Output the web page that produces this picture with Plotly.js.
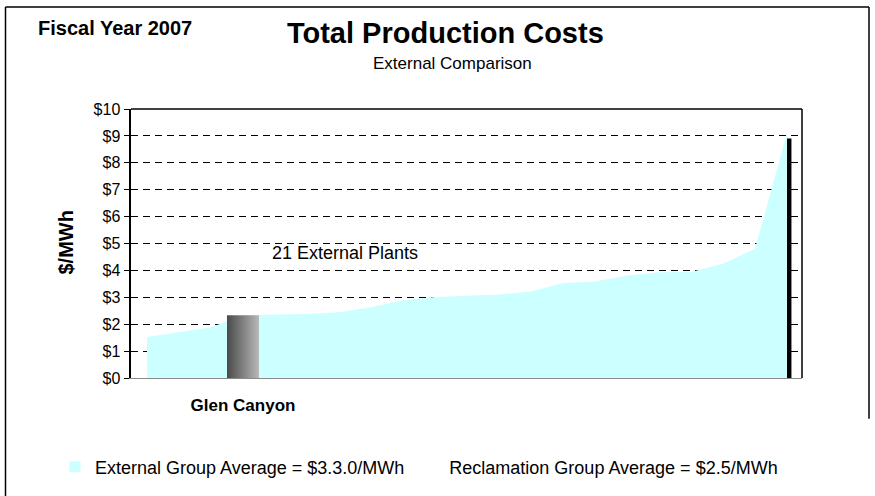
<!DOCTYPE html>
<html>
<head>
<meta charset="utf-8">
<script src="https://cdn.plot.ly/plotly-3.0.1.min.js"></script>
<style>
  html, body { margin: 0; padding: 0; background: #fff; }
  #myDiv { width: 875px; height: 496px; }
</style>
</head>
<body>
<div id="myDiv"></div>
<script>
// 21 external plants, sorted by cost ($/MWh)
const plantIndex = [0, 1, 2, 3, 4, 5, 6, 7, 8, 9, 10, 11, 12, 13, 14, 15, 16, 17, 18, 19, 20];
const plantCost = [1.52, 1.70, 1.89, 2.33, 2.36, 2.38, 2.44, 2.63, 2.89, 3.01, 3.06,
  3.10, 3.22, 3.53, 3.59, 3.81, 3.93, 3.94, 4.25, 4.80, 9.10];

// Glen Canyon column
const glenIndex = 3;
const glenCost = 2.33;
const glenLabel = 'Glen Canyon';

// dark column at the end of the curve
const peakIndex = 20;
const peakCost = 8.9;

const yTicks = [0, 1, 2, 3, 4, 5, 6, 7, 8, 9, 10];
const yTickText = yTicks.map((v) => '$' + v);

const externalLabel = 'External Group Average = $3.3.0/MWh';
const reclamationLabel = 'Reclamation Group Average = $2.5/MWh';

const fontFamily = 'Liberation Sans, Arial, sans-serif';

let data = [];
let layout;

const initTraces = () => {
  const area = {
    x: plantIndex,
    y: plantCost,
    type: 'scatter',
    mode: 'lines',
    fill: 'tozeroy',
    fillcolor: '#ccffff',
    line: { width: 0, color: '#ccffff' },
    showlegend: false,
    hoverinfo: 'x+y',
  };

  // column drawn as a filled box so it can take a gradient
  const glenBar = {
    x: [glenIndex - 0.5, glenIndex + 0.5, glenIndex + 0.5, glenIndex - 0.5, glenIndex - 0.5],
    y: [0, 0, glenCost, glenCost, 0],
    type: 'scatter',
    mode: 'lines',
    fill: 'toself',
    fillcolor: '#888888',
    fillgradient: {
      type: 'horizontal',
      colorscale: [[0, '#4a4a4a'], [1, '#b8b8b8']],
    },
    line: { width: 0 },
    showlegend: false,
    name: glenLabel,
  };

  const peakBar = {
    x: [peakIndex],
    y: [peakCost],
    type: 'bar',
    width: 0.14,
    offset: 0,
    marker: { color: '#000000', line: { width: 0 } },
    showlegend: false,
  };

  const legendExternal = {
    x: [null],
    y: [null],
    type: 'scatter',
    mode: 'markers',
    marker: { symbol: 'square', size: 11, color: '#ccffff' },
    name: externalLabel,
  };

  const legendReclamation = {
    x: [null],
    y: [null],
    type: 'scatter',
    mode: 'markers',
    marker: { symbol: 'square', size: 11, color: 'rgba(255,255,255,0)' },
    name: reclamationLabel,
  };

  data = [area, glenBar, peakBar, legendExternal, legendReclamation];
};

const initLayout = () => {
  layout = {
    width: 875,
    height: 496,
    margin: { l: 131, r: 73, t: 109, b: 117, pad: 0 },
    paper_bgcolor: '#ffffff',
    plot_bgcolor: '#ffffff',
    font: { family: fontFamily, color: '#000000' },
    title: {
      text: '<b>Total Production Costs</b>',
      font: { size: 29, family: fontFamily },
      x: 0.509,
      xanchor: 'center',
      y: 0.933,
      yanchor: 'middle',
    },
    xaxis: {
      range: [-0.5, 20.47],
      showgrid: false,
      zeroline: false,
      showline: true,
      linecolor: '#8a8a8a',
      linewidth: 1,
      tickvals: [glenIndex],
      ticktext: ['<b>' + glenLabel + '</b>'],
      ticks: '',
      ticklabelstandoff: 12,
      tickfont: { size: 17 },
      fixedrange: true,
    },
    yaxis: {
      range: [0, 10],
      tickvals: yTicks,
      ticktext: yTickText,
      ticks: 'outside',
      ticklen: 5,
      tickwidth: 1,
      tickcolor: '#000000',
      tickfont: { size: 16 },
      showline: true,
      linecolor: '#000000',
      linewidth: 2.5,
      showgrid: true,
      gridcolor: '#000000',
      gridwidth: 1,
      griddash: '7px,5px',
      zeroline: false,
      fixedrange: true,
    },
    legend: {
      orientation: 'h',
      x: -0.1133,
      xanchor: 'left',
      y: -0.326,
      yanchor: 'middle',
      font: { size: 18 },
      itemwidth: 30,
      bgcolor: 'rgba(0,0,0,0)',
    },
    annotations: [
      {
        xref: 'paper', yref: 'paper',
        x: (36 - 131) / 671, y: (379 - 28) / 270,
        xanchor: 'left', yanchor: 'middle',
        text: '<b>Fiscal Year 2007</b>',
        font: { size: 20 },
        showarrow: false,
      },
      {
        xref: 'paper', yref: 'paper',
        x: (452 - 131) / 671, y: (379 - 63) / 270,
        xanchor: 'center', yanchor: 'middle',
        text: 'External Comparison',
        font: { size: 17 },
        showarrow: false,
      },
      {
        xref: 'x', yref: 'y',
        x: 6.2, y: 4.65,
        xanchor: 'center', yanchor: 'middle',
        text: '21 External Plants',
        font: { size: 18 },
        showarrow: false,
      },
      {
        xref: 'paper', yref: 'paper',
        x: (66 - 131) / 671, y: (379 - 243) / 270,
        xanchor: 'center', yanchor: 'middle',
        textangle: -90,
        text: '<b>$/MWh</b>',
        font: { size: 20 },
        showarrow: false,
      },
    ],
    shapes: [
      // top and right edges of the plot frame
      { type: 'line', xref: 'paper', yref: 'paper', x0: 0, x1: 1, y0: 1, y1: 1,
        line: { color: '#000000', width: 1.5 } },
      { type: 'line', xref: 'paper', yref: 'paper', x0: 1, x1: 1, y0: 0, y1: 1,
        line: { color: '#000000', width: 1.5 } },
      // outer slide frame
      { type: 'line', xref: 'paper', yref: 'paper',
        x0: (5.5 - 131) / 671, x1: (5.5 - 131) / 671, y0: (379 - 6.5) / 270, y1: (379 - 500) / 270,
        line: { color: '#000000', width: 1.5 } },
      { type: 'line', xref: 'paper', yref: 'paper',
        x0: (5.5 - 131) / 671, x1: (869 - 131) / 671, y0: (379 - 6.5) / 270, y1: (379 - 6.5) / 270,
        line: { color: '#000000', width: 1.5 } },
      { type: 'line', xref: 'paper', yref: 'paper',
        x0: (869 - 131) / 671, x1: (869 - 131) / 671, y0: (379 - 6.5) / 270, y1: (379 - 420) / 270,
        line: { color: '#000000', width: 1.5 } },
    ],
  };
};

const startGraf = () => {
  initTraces();
  initLayout();
  Plotly.newPlot('myDiv', data, layout, { staticPlot: true });
};

startGraf();
</script>
</body>
</html>
